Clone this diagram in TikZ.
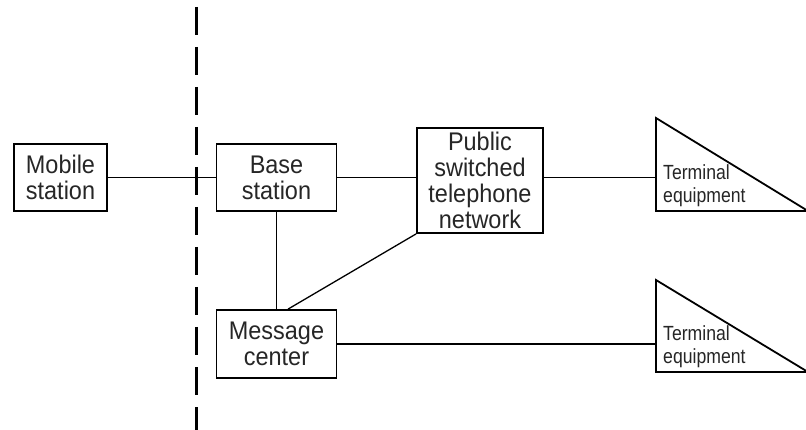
\documentclass[tikz,border=0pt]{standalone}
\usepackage{fontspec}
\setmainfont{Liberation Sans}[FakeStretch=0.92]
\newfontfamily\termfont{Liberation Sans}[FakeStretch=0.86]
\usetikzlibrary{calc}
\begin{document}
\begin{tikzpicture}[x=1pt,y=-1pt,
  box/.style={draw, line width=1.8pt, inner sep=0pt, align=center,
    font=\fontsize{25.5}{26}\selectfont, text=black!85},
  conn/.style={line width=1.3pt},
  tri/.style={draw, line width=1.8pt, line join=miter},
  termtext/.style={anchor=north west, inner sep=0pt, align=left,
    font=\termfont\fontsize{20.5}{22.5}\selectfont, text=black!85},
  divider/.style={line width=3pt, dash pattern=on 28pt off 12pt}]
\useasboundingbox (0,0) rectangle (806,430);

% divider
\coordinate (dtop) at (196,7);
\coordinate (dbot) at (196,431);
\draw[divider] (dtop) -- (dbot);

% boxes
\node[box, minimum width=93pt, minimum height=67pt] (mobile) at (60.5,177.5) {Mobile\\station};
\node[box, minimum width=120pt, minimum height=67pt] (base) at (276.5,177.5) {Base\\station};
\node[box, minimum width=126pt, minimum height=105pt] (pstn) at (480,180.5) {Public\\switched\\telephone\\network};
\node[box, minimum width=120pt, minimum height=68pt] (msg) at (276.5,344) {Message\\center};

% terminal triangles
\coordinate (t1a) at (656,118);
\coordinate (t1b) at (656,211);
\coordinate (t1c) at (808,211);
\draw[tri] (t1a) -- (t1b) -- (t1c) -- cycle;
\node[termtext] (term1) at (663,164.8) {Terminal\\equipment};

\coordinate (t2a) at (656,280);
\coordinate (t2b) at (656,372);
\coordinate (t2c) at (808,372);
\draw[tri] (t2a) -- (t2b) -- (t2c) -- cycle;
\node[termtext] (term2) at (663,325.8) {Terminal\\equipment};

% connectors
\draw[conn] (mobile.east) -- (base.west);
\draw[conn] (base.east) -- (base.east -| pstn.west);
\draw[conn] (pstn.east |- base.east) -- (t1a |- base.east);
\draw[conn] (base.south) -- (msg.north);
\draw[conn] (pstn.south west) -- ($(msg.north)!0.19!(msg.north east)$);
\draw[conn] (msg.east) -- (msg.east -| t2a);
\end{tikzpicture}
\end{document}
